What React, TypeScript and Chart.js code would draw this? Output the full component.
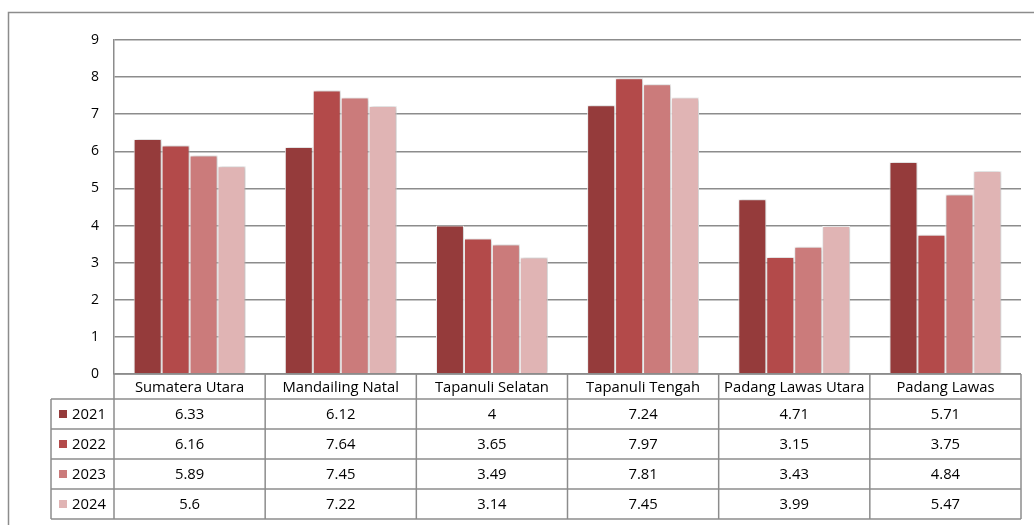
import React, { useEffect, useRef } from "react";
import { Chart, registerables } from "chart.js";

Chart.register(...registerables);

const categories = ["Sumatera Utara", "Mandailing Natal", "Tapanuli Selatan", "Tapanuli Tengah", "Padang Lawas Utara", "Padang Lawas"];
const seriesNames = ["2021", "2022", "2023", "2024"];
const values2021 = [6.33, 6.12, 4, 7.24, 4.71, 5.71];
const values2022 = [6.16, 7.64, 3.65, 7.97, 3.15, 3.75];
const values2023 = [5.89, 7.45, 3.49, 7.81, 3.43, 4.84];
const values2024 = [5.6, 7.22, 3.14, 7.45, 3.99, 5.47];
const yTicks = [0, 1, 2, 3, 4, 5, 6, 7, 8, 9];

const colors = ["#953B3B", "#B34A4A", "#CB7B7B", "#E0B4B4"];
const seriesValues = [values2021, values2022, values2023, values2024];
const FONT = "'Open Sans', sans-serif";
const LINE = "#8c8c8c";

const tablePlugin = {
  id: "dataTable",
  beforeDatasetsDraw(chart: any) {
    const ctx = chart.ctx;
    ctx.save();
    ctx.shadowColor = "rgba(0,0,0,0.28)";
    ctx.shadowBlur = 4;
    ctx.shadowOffsetX = 1;
    ctx.shadowOffsetY = 0;
  },
  afterDatasetsDraw(chart: any) {
    chart.ctx.restore();
  },
  afterDraw(chart: any) {
    const ctx = chart.ctx;
    const xs = chart.scales.x;
    const area = chart.chartArea;
    const n = categories.length;
    const step = (area.right - area.left) / n;
    const top = area.bottom;
    const headerH = 25;
    const rowH = 30;
    const legendLeft = 51;
    ctx.save();
    // outer frame
    ctx.strokeStyle = "#8c8c8c";
    ctx.lineWidth = 1.5;
    ctx.strokeRect(8.5, 12.5, 1100, 600);

    ctx.strokeStyle = LINE;
    ctx.lineWidth = 1.5;
    const tableBottom = top + headerH + rowH * seriesNames.length;
    // vertical lines
    for (let i = 0; i <= n; i++) {
      const x = area.left + i * step;
      ctx.beginPath();
      ctx.moveTo(x, top);
      ctx.lineTo(x, tableBottom);
      ctx.stroke();
    }
    ctx.beginPath();
    ctx.moveTo(legendLeft, top + headerH);
    ctx.lineTo(legendLeft, tableBottom);
    ctx.stroke();
    // horizontal lines
    ctx.beginPath();
    ctx.moveTo(area.left, top);
    ctx.lineTo(area.right, top);
    ctx.stroke();
    for (let r = 0; r <= seriesNames.length; r++) {
      const y = top + headerH + r * rowH;
      ctx.beginPath();
      ctx.moveTo(legendLeft, y);
      ctx.lineTo(area.right, y);
      ctx.stroke();
    }
    // text
    ctx.fillStyle = "#000";
    ctx.font = `14.8px ${FONT}`;
    ctx.textAlign = "center";
    ctx.textBaseline = "middle";
    categories.forEach((c, i) => {
      const cx = xs.getPixelForValue(i);
      ctx.fillText(c, cx, top + headerH / 2 + 1);
    });
    seriesNames.forEach((s, r) => {
      const cy = top + headerH + r * rowH + rowH / 2 + 1;
      seriesValues[r].forEach((v, i) => {
        ctx.fillText(String(v), xs.getPixelForValue(i), cy);
      });
      ctx.fillStyle = colors[r];
      ctx.fillRect(legendLeft + 8, cy - 5, 8, 8);
      ctx.fillStyle = "#000";
      ctx.textAlign = "left";
      ctx.fillText(s, legendLeft + 21, cy);
      ctx.textAlign = "center";
    });
    ctx.restore();
  },
};

export default function App() {
  const ref = useRef<HTMLCanvasElement>(null);
  useEffect(() => {
    if (!ref.current) return;
    const chart = new Chart(ref.current, {
      type: "bar",
      data: {
        labels: categories,
        datasets: seriesNames.map((s, i) => ({
          label: s,
          data: seriesValues[i],
          backgroundColor: colors[i],
          borderColor: "#ffffff",
          borderWidth: 1,
          barPercentage: 1,
          categoryPercentage: 0.74,
        })),
      },
      options: {
        animation: false,
        responsive: false,
        maintainAspectRatio: false,
        layout: { padding: { left: 0, right: 13, top: 40, bottom: 0 } },
        plugins: { legend: { display: false }, tooltip: { enabled: false } },
        scales: {
          x: {
            ticks: { display: false },
            grid: { display: false, drawTicks: false },
            border: { display: false },
            afterFit: (s: any) => {
              s.height = 151;
            },
          },
          y: {
            min: 0,
            max: 9,
            afterBuildTicks: (s: any) => {
              s.ticks = yTicks.map((v) => ({ value: v }));
            },
            ticks: {
              color: "#000",
              font: { family: FONT, size: 14 },
              padding: 15,
            },
            grid: { color: LINE, lineWidth: 1.5, drawTicks: false },
            border: { display: true, color: LINE, width: 1.5 },
            afterFit: (s: any) => {
              s.width = 114;
            },
          },
        },
      },
      plugins: [tablePlugin],
    });
    return () => chart.destroy();
  }, []);
  return (
    <div style={{ position: "fixed", left: 0, top: 0, width: 1034, height: 525, background: "#fff" }}>
      <canvas ref={ref} width={1034} height={525} style={{ display: "block" }} />
    </div>
  );
}
